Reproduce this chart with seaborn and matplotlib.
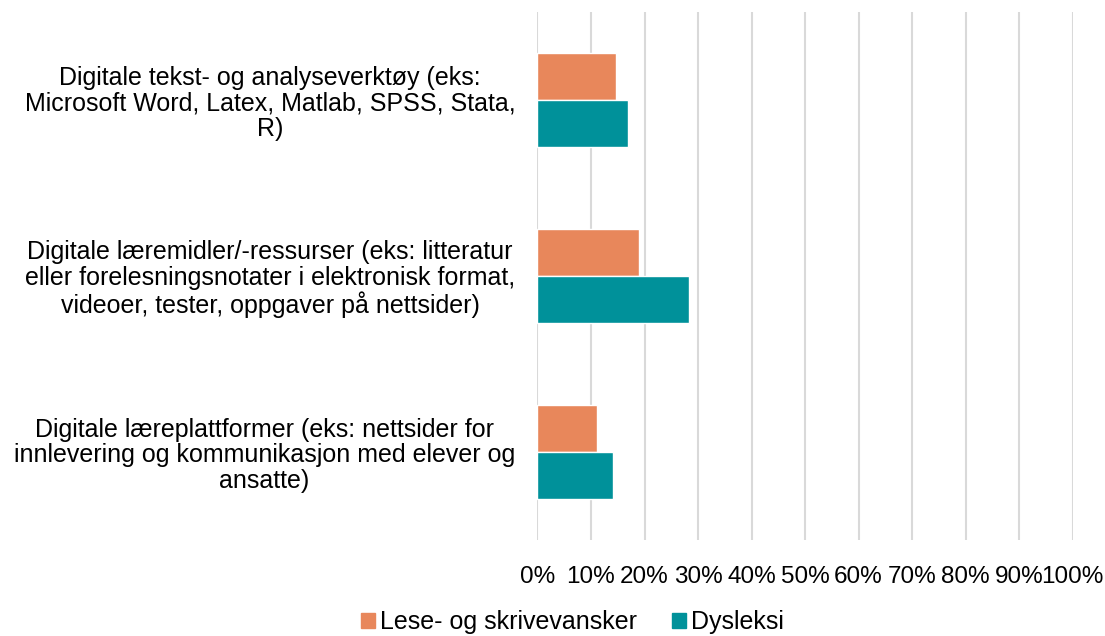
import pandas as pd
import matplotlib.pyplot as plt
import seaborn as sns
from matplotlib.ticker import FuncFormatter, MultipleLocator

# Chart data
categories = [
    'Digitale tekst- og analyseverktøy (eks:\nMicrosoft Word, Latex, Matlab, SPSS, Stata,\nR)',
    'Digitale læremidler/-ressurser (eks: litteratur\neller forelesningsnotater i elektronisk format,\nvideoer, tester, oppgaver på nettsider)',
    'Digitale læreplattformer (eks: nettsider for\ninnlevering og kommunikasjon med elever og\nansatte)',
]
series = ['Lese- og skrivevansker', 'Dysleksi']
lese_skrive = [14.7, 19.0, 11.1]
dysleksi = [16.9, 28.3, 14.2]
colors = ['#E8875B', '#00919A']

df = pd.DataFrame({
    'Category': categories * 2,
    'Group': [series[0]] * 3 + [series[1]] * 3,
    'Value': lese_skrive + dysleksi,
})

sns.set_style('white')
plt.rcParams['font.family'] = ['Liberation Sans', 'DejaVu Sans']

fig = plt.figure(figsize=(11.05, 6.36), dpi=100)
ax = fig.add_axes([0.4864, 0.151, 0.4843, 0.830])

sns.barplot(data=df, x='Value', y='Category', hue='Group', hue_order=series,
            palette=colors, saturation=1, orient='h', width=0.535,
            ax=ax, legend=False)

ax.set_xlim(0, 100)
ax.xaxis.set_major_locator(MultipleLocator(10))
ax.xaxis.set_major_formatter(FuncFormatter(lambda v, p: f'{v:.0f}%'))
ax.grid(axis='x', color='#D9D9D9', linewidth=1.5)
ax.set_axisbelow(True)
for s in ax.spines.values():
    s.set_visible(False)
ax.tick_params(axis='both', length=0, labelsize=17.5, colors='black')
ax.tick_params(axis='x', pad=19)
ax.tick_params(axis='y', pad=16)
for lbl in ax.get_yticklabels():
    lbl.set_multialignment('center')
    lbl.set_linespacing(1.08)
    lbl.set_fontsize(18)
ax.set_xlabel('')
ax.set_ylabel('')

handles = [plt.Rectangle((0, 0), 1, 1, color=c) for c in colors]
fig.legend(handles, series, loc='center', bbox_to_anchor=(0.518, 0.022), ncol=2,
           frameon=False, fontsize=18, handlelength=0.55, handleheight=0.55,
           handletextpad=0.2, columnspacing=1.4, labelcolor='black')

fig.savefig('out.png', dpi=100)
